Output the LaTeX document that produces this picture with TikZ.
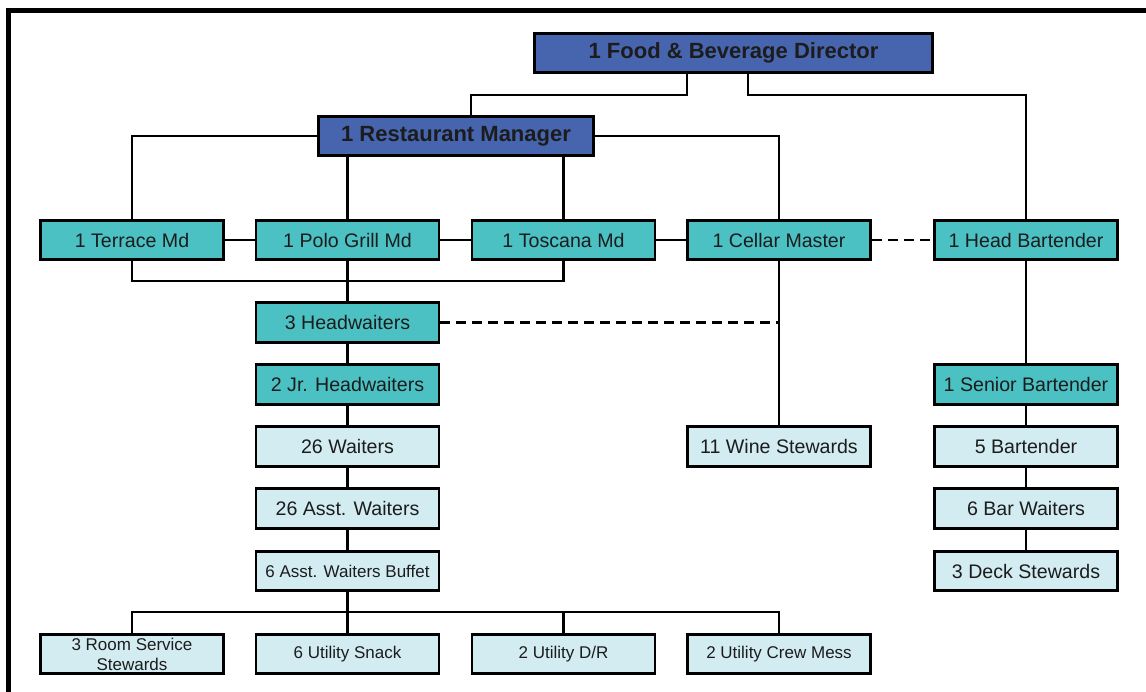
\documentclass[tikz,border=0pt]{standalone}
\usepackage{fontspec}
\setmainfont{Liberation Sans}
\definecolor{dblue}{HTML}{4764AE}
\definecolor{tealbox}{HTML}{4BC1C3}
\definecolor{lblue}{HTML}{D2ECF2}
\definecolor{txt}{HTML}{1C1C1C}
\begin{document}
\begin{tikzpicture}[x=1pt,y=-1pt,
  box/.style={draw=black, line width=2.6pt, minimum width=183pt, minimum height=39.5pt, inner sep=0pt, text=txt, font=\fontsize{19.6}{21}\selectfont, align=center},
  topbox/.style={box, fill=dblue, font=\bfseries\fontsize{22}{24}\selectfont},
  midbox/.style={box, fill=tealbox},
  lowbox/.style={box, fill=lblue},
  smallbox/.style={lowbox, font=\fontsize{17}{20}\selectfont},
  link/.style={line width=2.8pt},
  dlink/.style={link, dash pattern=on 10pt off 6pt}]
\useasboundingbox (0,0) rectangle (1146,692);
\draw[line width=5pt] (8.5,692) -- (8.5,10.5) -- (1146,10.5);

% nodes
\node[topbox, minimum width=398pt] (dir) at (733.5,53) {1 Food \& Beverage Director};
\node[topbox, minimum width=275pt] (rm) at (456,136) {1 Restaurant Manager};

\node[midbox] (ter) at (132,240) {1 Terrace Md};
\node[midbox] (polo) at (347.5,240) {1 Polo Grill Md};
\node[midbox] (tos) at (563.5,240) {1 Toscana Md};
\node[midbox] (cel) at (779,240) {1 Cellar Master};
\node[midbox] (hb) at (1026,240) {1 Head Bartender};

\node[midbox] (hw) at (347.5,322.5) {3 Headwaiters};
\node[midbox] (jr) at (347.5,384.5) {2 Jr. Headwaiters};
\node[lowbox] (wa) at (347.5,446.5) {26 Waiters};
\node[lowbox] (aw) at (347.5,508.5) {26 Asst. Waiters};
\node[smallbox] (buf) at (347.5,571) {6 Asst. Waiters Buffet};

\node[lowbox] (wine) at (779,446.5) {11 Wine Stewards};

\node[midbox] (sb) at (1026,384.5) {1 Senior Bartender};
\node[lowbox] (bt) at (1026,446.5) {5 Bartender};
\node[lowbox] (bw) at (1026,508.5) {6 Bar Waiters};
\node[lowbox] (ds) at (1026,571) {3 Deck Stewards};

\node[smallbox] (rs) at (132,654) {3 Room Service\\Stewards};
\node[smallbox] (us) at (347.5,654) {6 Utility Snack};
\node[smallbox] (ud) at (563.5,654) {2 Utility D/R};
\node[smallbox] (cm) at (779,654) {2 Utility Crew Mess};

% connectors
\draw[link] ([xshift=-46.5pt]dir.south) |- ([xshift=15pt,yshift=20pt]rm.north) -- ([xshift=15pt]rm.north);
\draw[link] ([xshift=14.5pt]dir.south) |- ([yshift=124pt]hb.north) -- (hb.north);
\draw[link] (rm.west) -| (ter.north);
\draw[link] (rm.east) -| (cel.north);
\draw[link] (rm.south -| polo.north) -- (polo.north);
\draw[link] (rm.south -| tos.north) -- (tos.north);
\draw[link] (ter.east) -- (polo.west);
\draw[link] (polo.east) -- (tos.west);
\draw[link] (tos.east) -- (cel.west);
\draw[dlink] (cel.east) -- (hb.west);
\draw[link] (ter.south) -- ++(0,20) -| (tos.south);
\draw[link] (polo.south) -- (hw.north);
\draw[dlink] (hw.east) -- (hw.east -| cel.south);
\draw[link] (cel.south) -- (wine.north);
\draw[link] (hw.south) -- (jr.north);
\draw[link] (jr.south) -- (wa.north);
\draw[link] (wa.south) -- (aw.north);
\draw[link] (aw.south) -- (buf.north);
\draw[link] (hb.south) -- (sb.north);
\draw[link] (sb.south) -- (bt.north);
\draw[link] (bt.south) -- (bw.north);
\draw[link] (bw.south) -- (ds.north);
\draw[link] (buf.south) -- (us.north);
\draw[link] (rs.north) -- ++(0,-21) -| (cm.north);
\draw[link] ([yshift=21pt]ud.north) -- (ud.north);
\end{tikzpicture}
\end{document}
